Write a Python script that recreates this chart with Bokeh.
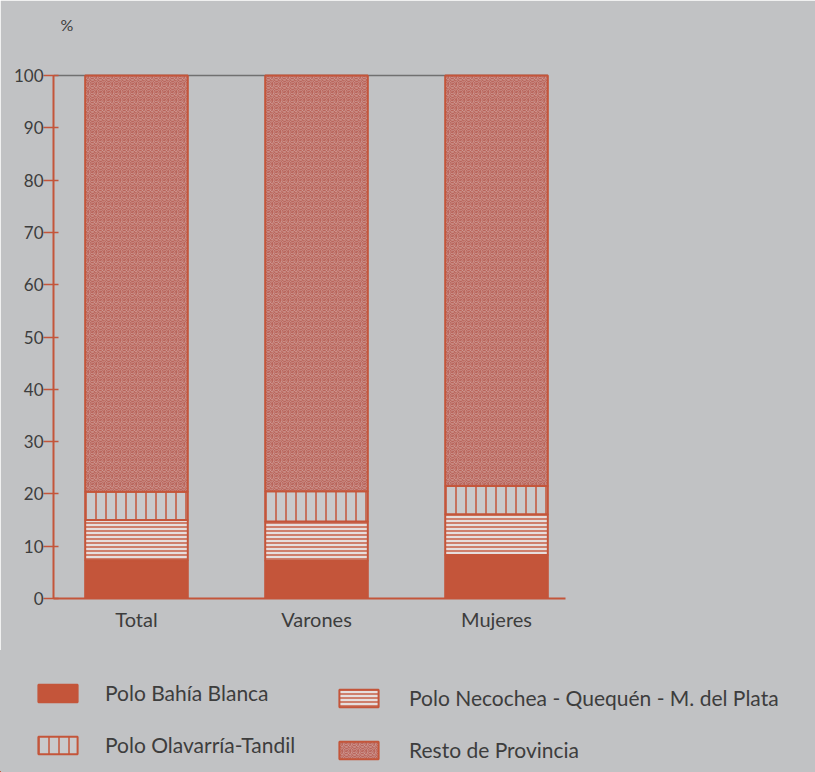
from bokeh.plotting import figure
from bokeh.models import FixedTicker, Legend, LegendItem, Range1d, ColumnDataSource
from bokeh.layouts import column
from bokeh.embed import file_html
from bokeh.resources import INLINE

# ---- data ----
categories = ["Total", "Varones", "Mujeres"]
bahia = [7.3, 7.2, 8.3]
necochea = [7.7, 7.5, 7.8]
olavarria = [5.4, 5.8, 5.4]
resto = [79.6, 79.5, 78.5]
series_keys = ["bahia", "necochea", "olavarria", "resto"]
series_names = ["Polo Bahía Blanca", "Polo Necochea - Quequén - M. del Plata",
                "Polo Olavarría-Tandil", "Resto de Provincia"]
y_ticks = [0, 10, 20, 30, 40, 50, 60, 70, 80, 90, 100]

# ---- style ----
BG = "#c1c2c4"
RED = "#c4553a"
TXT = "#3d3d3d"
FONT = "Lato"
BAR_W = 0.57
X_START, X_END = -0.461, 3.772

fills = [RED, "#e6dedd", "#c9cacc", "#d6aca7"]
hatches = [" ", "horizontal_line", "vertical_line", "spiral"]
hscales = [1, 4, 10, 8]
hweights = [1, 1.4, 1.5, 1.2]
hcolors = [RED, RED, RED, "#b9655b"]

xpos = list(range(len(categories)))
totals = [a + b + c + d for a, b, c, d in zip(bahia, necochea, olavarria, resto)]
src = ColumnDataSource(dict(x=xpos, bahia=bahia, necochea=necochea,
                            olavarria=olavarria, resto=resto))

p = figure(width=815, height=650, x_range=Range1d(X_START, X_END),
           y_range=Range1d(0, 106.7), output_backend="svg", toolbar_location=None,
           min_border_left=53, min_border_right=0, min_border_top=40,
           min_border_bottom=52)
p.background_fill_color = BG
p.border_fill_color = BG
p.outline_line_color = BG
p.outline_line_width = 2
p.grid.visible = False

p.title.text = "%"
p.title.text_font = FONT
p.title.text_font_size = "16px"
p.title.text_font_style = "normal"
p.title.text_color = TXT
p.title.offset = 7
p.title.standoff = 14

# line joining bar tops at 100
p.segment(x0=[X_START], y0=[max(totals)], x1=[xpos[-1] + BAR_W / 2], y1=[max(totals)],
          line_color="#707070", line_width=1.5)

p.vbar_stack(series_keys, x="x", width=BAR_W, source=src,
             fill_color=fills, hatch_pattern=hatches, hatch_scale=hscales,
             hatch_weight=hweights, hatch_color=hcolors,
             line_color=RED, line_width=2)

ya = p.yaxis[0]
ya.ticker = FixedTicker(ticks=y_ticks)
ya.bounds = (0, 100)
ya.axis_line_color = RED
ya.axis_line_width = 2
ya.major_tick_line_color = RED
ya.major_tick_line_width = 1.5
ya.major_tick_out = 10
ya.major_tick_in = 5
ya.minor_tick_line_color = None
ya.major_label_text_font = FONT
ya.major_label_text_font_size = "17px"
ya.major_label_text_color = TXT
ya.major_label_standoff = 0

xa = p.xaxis[0]
xa.ticker = FixedTicker(ticks=xpos)
xa.major_label_overrides = {i: c for i, c in zip(xpos, categories)}
xa.bounds = (X_START, xpos[-1] + 0.383)
xa.axis_line_color = RED
xa.axis_line_width = 2
xa.major_tick_line_color = None
xa.minor_tick_line_color = None
xa.major_label_text_font = FONT
xa.major_label_text_font_size = "20px"
xa.major_label_text_color = TXT
xa.major_label_standoff = 2

# ---- legend figure (same data, bars kept outside its visible range) ----
leg = figure(width=815, height=122, x_range=(50, 51), y_range=(1000, 1001),
             x_axis_type=None, y_axis_type=None, output_backend="svg",
             toolbar_location=None, min_border=0)
LEG_LEFT = 0
try:
    p.frame_align = False
    leg.frame_align = False
except Exception:
    LEG_LEFT = 53
    leg.min_border_left = LEG_LEFT
leg.background_fill_color = BG
leg.border_fill_color = BG
leg.outline_line_color = BG
leg.outline_line_width = 2
leg.grid.visible = False

items = []
for i, (key, name) in enumerate(zip(series_keys, series_names)):
    r = leg.vbar(x="x", top=key, width=BAR_W, source=src, fill_color=fills[i],
                 hatch_pattern=hatches[i], hatch_scale=hscales[i],
                 hatch_weight=hweights[i], hatch_color=hcolors[i],
                 line_color=RED, line_width=2)
    items.append(LegendItem(label=name, renderers=[r]))


def make_legend(its, loc, standoff):
    return Legend(items=its, location=loc, orientation="vertical",
                  glyph_width=49, glyph_height=22, label_height=22,
                  label_standoff=standoff, spacing=27, padding=0, margin=0,
                  border_line_color=None, background_fill_alpha=0,
                  label_text_font=FONT, label_text_font_size="21px",
                  label_text_color=TXT)


leg.add_layout(make_legend([items[0], items[2]], (33 - LEG_LEFT, 15), 23))
leg.add_layout(make_legend([items[1], items[3]], (334 - LEG_LEFT, 10), 26))

layout = column(p, leg, spacing=0)
open("out.html", "w").write(file_html(layout, INLINE))
